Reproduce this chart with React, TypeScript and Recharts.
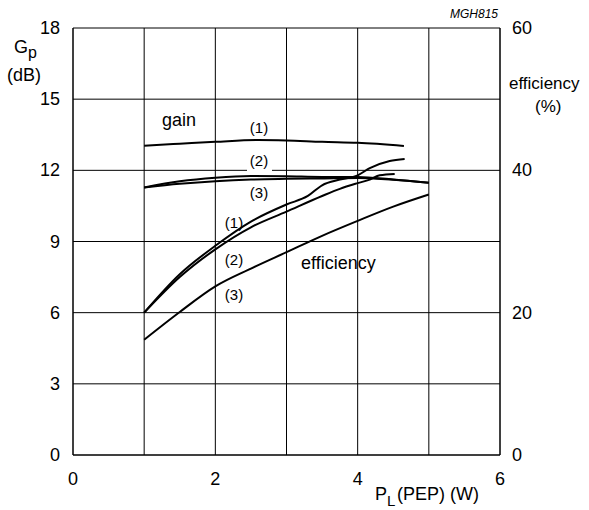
import { LineChart, Line, XAxis, YAxis, CartesianGrid } from "recharts";

const FONT = '"Liberation Sans", Arial, sans-serif';

// x axis: load power P_L (PEP) in W
const X_TICKS = [0, 1, 2, 3, 4, 5, 6];
const GAIN_TICKS = [0, 3, 6, 9, 12, 15, 18];
const EFF_TICKS = [0, 20, 40, 60];

// gain curves (dB)
const gain1X = [1, 1.5, 2, 2.6, 3, 3.5, 4, 4.65];
const gain1Y = [13.04, 13.12, 13.2, 13.28, 13.26, 13.2, 13.16, 13.03];
const gain2X = [1, 1.5, 2, 2.5, 3, 3.5, 4, 4.5, 5];
const gain2Y = [11.28, 11.54, 11.69, 11.76, 11.75, 11.72, 11.72, 11.61, 11.48];
const gain3X = [1, 1.5, 2, 2.5, 3, 3.5, 4, 4.5, 5];
const gain3Y = [11.28, 11.43, 11.54, 11.61, 11.64, 11.66, 11.68, 11.6, 11.48];

// efficiency curves (%)
const eff1X = [1, 1.5, 2, 2.5, 3, 3.3, 3.5, 3.75, 4, 4.17, 4.45, 4.66];
const eff1Y = [20, 25.4, 29.4, 32.8, 35.2, 36.4, 37.9, 38.7, 39.3, 40.3, 41.3, 41.6];
const eff2X = [1, 1.5, 2, 2.5, 3, 3.5, 3.75, 4, 4.17, 4.31, 4.52];
const eff2Y = [20, 25.0, 28.9, 32.0, 34.2, 36.4, 37.4, 38.2, 38.7, 39.3, 39.5];
const eff3X = [1, 1.5, 2, 2.5, 3, 3.5, 4, 4.5, 5];
const eff3Y = [16.2, 20.1, 23.7, 26.2, 28.5, 30.8, 32.9, 34.9, 36.6];

const pts = (xs: number[], ys: number[]) => xs.map((x, i) => ({ x, y: ys[i] }));

const XTick = ({ x, y, payload }: any) =>
  payload.value % 2 === 0 ? (
    <text x={x} y={y + 28} textAnchor="middle" fontSize={18} fontFamily={FONT} fill="#000">
      {payload.value}
    </text>
  ) : null;

const LeftTick = ({ x, y, payload }: any) => (
  <text x={x - 11} y={y + 6} textAnchor="end" fontSize={18} fontFamily={FONT} fill="#000">
    {payload.value}
  </text>
);

const RightTick = ({ x, y, payload }: any) => (
  <text x={x + 10} y={y + 6} textAnchor="start" fontSize={18} fontFamily={FONT} fill="#000">
    {payload.value}
  </text>
);

const lineProps = {
  type: "monotone" as const,
  dataKey: "y",
  stroke: "#000",
  strokeWidth: 2,
  dot: false,
  isAnimationActive: false,
};

export default function App() {
  return (
    <div style={{ position: "absolute", left: 0, top: 0, width: 589, height: 510, background: "#fff" }}>
      <LineChart width={589} height={510} margin={{ top: 28, right: 0, bottom: 0, left: 0 }}>
        <CartesianGrid yAxisId="g" stroke="#000" strokeWidth={1} />
        <XAxis
          type="number"
          dataKey="x"
          domain={[0, 6]}
          ticks={X_TICKS}
          height={55}
          tick={<XTick />}
          tickLine={false}
          tickSize={0}
          axisLine={{ stroke: "#000" }}
          allowDuplicatedCategory={false}
        />
        <YAxis
          yAxisId="g"
          type="number"
          domain={[0, 18]}
          ticks={GAIN_TICKS}
          width={73}
          tick={<LeftTick />}
          tickLine={false}
          tickSize={0}
          axisLine={{ stroke: "#000" }}
        />
        <YAxis
          yAxisId="e"
          orientation="right"
          type="number"
          domain={[0, 60]}
          ticks={EFF_TICKS}
          width={89}
          tick={<RightTick />}
          tickLine={false}
          tickSize={0}
          axisLine={{ stroke: "#000" }}
        />
        <Line {...lineProps} yAxisId="g" data={pts(gain1X, gain1Y)} />
        <Line {...lineProps} yAxisId="g" data={pts(gain2X, gain2Y)} />
        <Line {...lineProps} yAxisId="g" data={pts(gain3X, gain3Y)} />
        <Line {...lineProps} yAxisId="e" data={pts(eff1X, eff1Y)} />
        <Line {...lineProps} yAxisId="e" data={pts(eff2X, eff2Y)} />
        <Line {...lineProps} yAxisId="e" data={pts(eff3X, eff3Y)} />
      </LineChart>
      <svg
        width={589}
        height={510}
        style={{ position: "absolute", left: 0, top: 0, pointerEvents: "none" }}
        fontFamily={FONT}
        fill="#000"
      >
        <text x={498} y={18} fontSize={12} fontStyle="italic" textAnchor="end">MGH815</text>
        <text x={14} y={53} fontSize={18}>G</text>
        <text x={28} y={58} fontSize={16}>p</text>
        <text x={7} y={81} fontSize={18}>(dB)</text>
        <text x={509} y={89} fontSize={17}>efficiency</text>
        <text x={535} y={112} fontSize={17}>(%)</text>
        <text x={375} y={500} fontSize={18}>P</text>
        <text x={387} y={506} fontSize={15}>L</text>
        <text x={397} y={500} fontSize={18}>(PEP) (W)</text>

        <text x={162} y={126} fontSize={18}>gain</text>
        <text x={259} y={133} fontSize={15} textAnchor="middle">(1)</text>
        <rect x={247} y={166} width={25} height={8} fill="#fff" />
        <text x={259} y={166} fontSize={15} textAnchor="middle">(2)</text>
        <text x={259} y={198} fontSize={15} textAnchor="middle">(3)</text>
        <text x={234} y={228} fontSize={15} textAnchor="middle">(1)</text>
        <text x={234} y={265} fontSize={15} textAnchor="middle">(2)</text>
        <text x={234} y={300} fontSize={15} textAnchor="middle">(3)</text>
        <text x={301} y={269} fontSize={18}>efficiency</text>
      </svg>
    </div>
  );
}
